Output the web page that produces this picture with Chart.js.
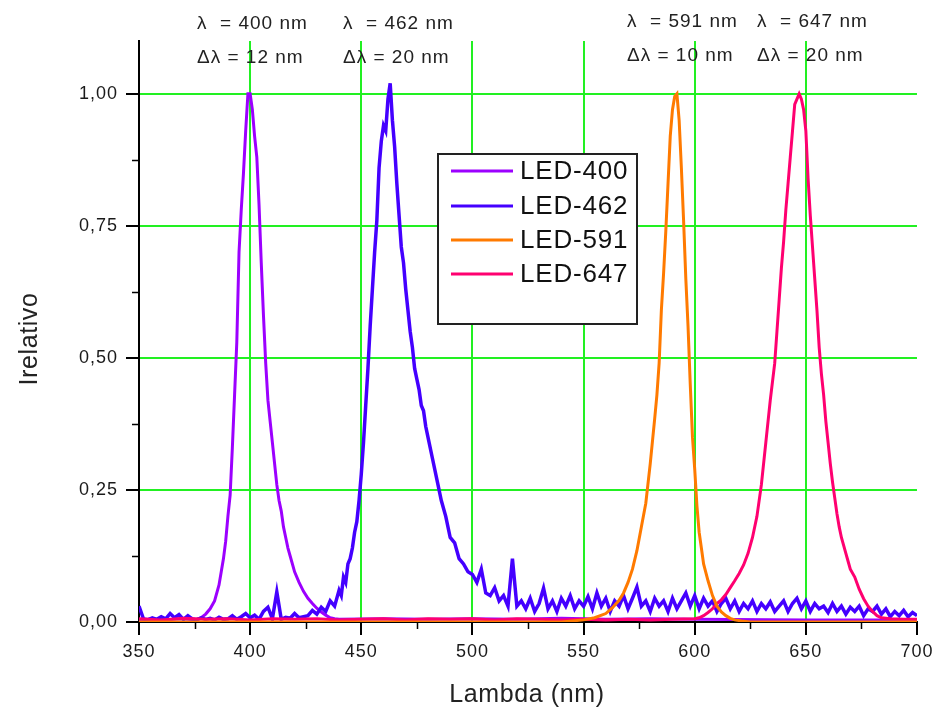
<!DOCTYPE html>
<html>
<head>
<meta charset="utf-8">
<title>LED spectra</title>
<script src="https://cdn.jsdelivr.net/npm/chart.js@4.4.1/dist/chart.umd.min.js"></script>
<style>
  body { margin: 0; background: #fff; }
  canvas { display: block; }
</style>
</head>
<body>
<canvas id="spectraChart" width="938" height="710"></canvas>
<script>
// Spectra: wavelength (nm) and relative intensity
const lambda400 = [
  350, 356, 362, 368, 372, 375, 378,
  380, 382, 384, 386, 387, 388, 389,
  390, 391, 392, 393, 394, 395, 396, 397, 398, 399,
  400, 401, 402, 403, 404, 405, 406, 407, 408, 409,
  410, 411, 412, 413, 414, 415, 416, 417, 418, 419, 420,
  422, 424, 426, 428, 430, 432, 434, 436, 438, 440,
  460, 480, 500, 520, 540, 560, 580, 600, 650, 700
];
const led400 = [
  0.004, 0.006, 0.004, 0.006, 0.005, 0.004, 0.008,
  0.015, 0.025, 0.04, 0.07, 0.095, 0.12, 0.153,
  0.2, 0.24, 0.33, 0.43, 0.53, 0.7, 0.78, 0.85, 0.93, 1.0,
  1.0, 0.97, 0.92, 0.88, 0.79, 0.68, 0.58, 0.49, 0.42, 0.38,
  0.34, 0.3, 0.26, 0.23, 0.21, 0.18, 0.16, 0.14, 0.125, 0.11, 0.095,
  0.075, 0.058, 0.045, 0.035, 0.026, 0.019, 0.013, 0.008, 0.006, 0.005,
  0.006, 0.005, 0.006, 0.005, 0.007, 0.005, 0.006, 0.005, 0.004, 0.004
];

const lambda462 = [
  350, 352, 354, 356, 358, 360, 362, 364, 366, 368,
  370, 372, 374, 376, 378, 380, 382, 384, 386, 388,
  390, 392, 394, 396, 398, 400, 402, 404, 406, 408,
  410, 412, 414, 416, 418, 420, 422, 424, 426, 428,
  430, 432, 434, 436, 438,
  440, 441, 442, 443, 444, 445, 446, 447, 448, 449,
  450, 451, 452, 453, 454, 455, 456, 457, 458, 459,
  460, 461, 462, 463, 464, 465, 466, 467, 468, 469,
  470, 471, 472, 473, 474, 475, 476, 477, 478, 479,
  480,
  482, 484, 486, 488, 490, 492, 494, 496, 498, 500,
  502, 504, 506, 508, 510, 512, 514, 516, 518, 520,
  522, 524, 526, 528, 530, 532, 534, 536, 538, 540,
  542, 544, 546, 548, 550, 552, 554, 556, 558, 560,
  562, 564, 566, 568, 570, 572, 574, 576, 578, 580,
  582, 584, 586, 588, 590, 592, 594, 596, 598, 600,
  602, 604, 606, 608, 610, 612, 614, 616, 618, 620,
  622, 624, 626, 628, 630, 632, 634, 636, 638, 640,
  642, 644, 646, 648, 650, 652, 654, 656, 658, 660,
  662, 664, 666, 668, 670, 672, 674, 676, 678, 680,
  682, 684, 686, 688, 690, 692, 694, 696, 698, 700
];
const led462 = [
  0.03, 0.006, 0.004, 0.008, 0.005, 0.01, 0.006, 0.016, 0.008, 0.014,
  0.005, 0.012, 0.006, 0.004, 0.008, 0.005, 0.007, 0.004, 0.009, 0.005,
  0.006, 0.012, 0.005, 0.01, 0.016, 0.008, 0.013, 0.005, 0.02, 0.028,
  0.006, 0.057, 0.005, 0.009, 0.007, 0.016, 0.008, 0.01, 0.012, 0.022,
  0.015, 0.028, 0.02, 0.04, 0.03,
  0.06, 0.05, 0.085, 0.075, 0.11, 0.12, 0.14, 0.17, 0.19, 0.23,
  0.28, 0.34, 0.41, 0.48, 0.56, 0.63, 0.7, 0.76, 0.86, 0.91,
  0.94, 0.93, 0.99, 1.02, 0.95, 0.9, 0.83, 0.77, 0.71, 0.68,
  0.63, 0.59, 0.55, 0.52, 0.48, 0.46, 0.44, 0.41, 0.4, 0.37,
  0.35,
  0.31, 0.27, 0.23, 0.2, 0.16, 0.15, 0.12, 0.11, 0.095, 0.09,
  0.075, 0.1, 0.055, 0.05, 0.065, 0.04, 0.05, 0.03, 0.12, 0.03,
  0.04, 0.025, 0.045, 0.02, 0.035, 0.064, 0.025, 0.04, 0.02, 0.045,
  0.03, 0.05, 0.025, 0.04, 0.03, 0.048, 0.025, 0.055, 0.03, 0.045,
  0.02, 0.04, 0.03, 0.05, 0.025, 0.045, 0.066, 0.03, 0.04, 0.02,
  0.045, 0.03, 0.04, 0.02, 0.045, 0.025, 0.04, 0.055, 0.03, 0.05,
  0.025, 0.045, 0.03, 0.04, 0.02, 0.035, 0.045, 0.025, 0.04, 0.02,
  0.035, 0.025, 0.04, 0.02, 0.035, 0.025, 0.038, 0.02, 0.03, 0.04,
  0.02, 0.035, 0.045, 0.025, 0.04, 0.02, 0.035, 0.025, 0.03, 0.018,
  0.035, 0.02, 0.03, 0.015, 0.028, 0.02, 0.03, 0.012, 0.025, 0.02,
  0.03, 0.015, 0.025, 0.01, 0.02, 0.012, 0.022, 0.01, 0.018, 0.012
];

const lambda591 = [
  350, 400, 450, 500,
  540, 545, 550, 555, 560, 563, 566, 568, 570, 572,
  574, 576, 578, 580, 582,
  583, 584, 585, 586, 587, 588, 589, 590, 591, 592,
  593, 594, 595, 596, 597, 598, 599, 600, 601, 602, 603, 604,
  606, 608, 610, 612, 614, 616, 618,
  621, 625, 650, 700
];
const led591 = [
  0, 0, 0, 0,
  0, 0.002, 0.004, 0.008, 0.016, 0.027, 0.041, 0.055, 0.075, 0.1,
  0.135, 0.18, 0.225, 0.3, 0.385,
  0.43, 0.49, 0.59, 0.66, 0.74, 0.83, 0.92, 0.97, 0.995, 1.0,
  0.95, 0.86, 0.76, 0.65, 0.56, 0.45, 0.35, 0.29, 0.22, 0.17, 0.14, 0.11,
  0.078, 0.05, 0.03, 0.019, 0.012, 0.007, 0.004,
  0.002, 0, 0, 0
];

const lambda647 = [
  350, 360, 370, 380, 390, 400, 410, 420, 430, 440,
  450, 460, 470, 480, 490, 500, 510, 520, 530, 540,
  550, 560, 570, 580, 590, 600,
  602, 604, 606, 608, 610, 612, 614, 616, 618, 620,
  622, 624, 626, 628, 630, 632, 634, 636,
  637, 638, 639, 640, 641, 642, 643, 644, 645, 646,
  647, 648, 649, 650, 651, 652, 653, 654, 655, 656,
  657, 658, 659, 660, 661, 662, 663, 664, 665, 666,
  667, 668, 669, 670,
  672, 674, 676, 678, 680, 682, 684,
  688, 694, 700
];
const led647 = [
  0.006, 0.004, 0.007, 0.005, 0.006, 0.004, 0.006, 0.005, 0.006, 0.004,
  0.005, 0.006, 0.004, 0.006, 0.005, 0.006, 0.004, 0.006, 0.005, 0.004,
  0.005, 0.004, 0.005, 0.004, 0.005, 0.006,
  0.008, 0.012, 0.018, 0.025, 0.035, 0.042, 0.052, 0.065, 0.078, 0.092,
  0.108, 0.13, 0.16, 0.2, 0.26, 0.34, 0.42, 0.49,
  0.55, 0.61, 0.67, 0.72, 0.78, 0.83, 0.88, 0.93, 0.98, 0.99,
  1.0, 0.99, 0.97, 0.93, 0.84, 0.77, 0.71, 0.65, 0.59, 0.52,
  0.47, 0.43, 0.38, 0.34, 0.3, 0.265, 0.235, 0.205, 0.18, 0.16,
  0.145, 0.13, 0.115, 0.1,
  0.085, 0.062, 0.044, 0.03, 0.02, 0.012, 0.008,
  0.006, 0.005, 0.005
];

const seriesNames = ["LED-400", "LED-462", "LED-591", "LED-647"];
const peakLabels = ["400", "462", "591", "647"];
const widthLabels = ["12", "20", "10", "20"];
const xMajorTicks = [350, 400, 450, 500, 550, 600, 650, 700];
const yMajorTicks = [0, 0.25, 0.5, 0.75, 1.0];

// styles
const colors = ["#9c00ff", "#4400ff", "#ff7a00", "#ff0070"];
const GRID = "#22f022";
const FONT = "'Liberation Sans', Arial, sans-serif";

const withMinors = majors => majors.flatMap((v, i) => i ? [(v + majors[i - 1]) / 2, v] : [v]);
const xTicks = withMinors(xMajorTicks);
const yTicks = withMinors(yMajorTicks);
const xMinor = xTicks.filter(v => !xMajorTicks.includes(v));
const yMinor = yTicks.filter(v => !yMajorTicks.includes(v));

const toPoints = (xs, ys) => xs.map((x, i) => ({ x: x, y: ys[i] }));
const datasets = [
  { label: seriesNames[0], data: toPoints(lambda400, led400), borderColor: colors[0], order: 4 },
  { label: seriesNames[1], data: toPoints(lambda462, led462), borderColor: colors[1], order: 3, borderWidth: 3.5 },
  { label: seriesNames[2], data: toPoints(lambda591, led591), borderColor: colors[2], order: 1 },
  { label: seriesNames[3], data: toPoints(lambda647, led647), borderColor: colors[3], order: 2 }
].map(d => Object.assign({ borderWidth: 3, pointRadius: 0, fill: false, tension: 0 }, d));

const innerGrid = (majors, lo, hi) => c => {
  const v = c.tick ? c.tick.value : null;
  return majors.includes(v) && v !== lo && v !== hi ? GRID : "rgba(0,0,0,0)";
};
const majorTick = majors => c => (c.tick && majors.includes(c.tick.value)) ? "#000" : "rgba(0,0,0,0)";

const spacing = {
  id: "spacing",
  beforeDraw(chart) { chart.ctx.letterSpacing = "1px"; }
};

const decorations = {
  id: "decorations",
  afterDraw(chart) {
    const { ctx, chartArea: area } = chart;
    const x = chart.scales.x, y = chart.scales.y;
    ctx.save();

    // minor ticks
    ctx.strokeStyle = "#000";
    ctx.lineWidth = 1.5;
    ctx.beginPath();
    xMinor.forEach(v => {
      const px = Math.round(x.getPixelForValue(v)) + 0.5;
      ctx.moveTo(px, area.bottom);
      ctx.lineTo(px, area.bottom + 7);
    });
    yMinor.forEach(v => {
      const py = Math.round(y.getPixelForValue(v)) + 0.5;
      ctx.moveTo(area.left - 7, py);
      ctx.lineTo(area.left, py);
    });
    ctx.stroke();

    // peak annotations above the plot
    ctx.fillStyle = "#222";
    ctx.font = "19px " + FONT;
    ctx.letterSpacing = "1px";
    ctx.textAlign = "left";
    ctx.textBaseline = "alphabetic";
    const annX = [197, 343, 627, 757];
    const annY = [29, 29, 27, 27];
    peakLabels.forEach((p, i) => {
      ctx.fillText("\u03bb  = " + p + " nm", annX[i], annY[i]);
      ctx.fillText("\u0394\u03bb = " + widthLabels[i] + " nm", annX[i], annY[i] + 34);
    });

    // axis titles
    ctx.font = "25px " + FONT;
    ctx.letterSpacing = "0.6px";
    ctx.textAlign = "center";
    ctx.fillText("Lambda (nm)", 527, 702);
    ctx.save();
    ctx.translate(30, 339);
    ctx.rotate(-Math.PI / 2);
    ctx.textBaseline = "middle";
    ctx.fillText("Irelativo", 0, 0);
    ctx.restore();

    // legend box
    ctx.fillStyle = "#fff";
    ctx.fillRect(438, 154, 199, 170);
    ctx.strokeStyle = "#222";
    ctx.lineWidth = 2;
    ctx.strokeRect(438, 154, 199, 170);
    ctx.font = "26px " + FONT;
    ctx.letterSpacing = "0.8px";
    ctx.textAlign = "left";
    ctx.textBaseline = "middle";
    const rowY = [171, 206, 240, 274];
    datasets.forEach((d, i) => {
      ctx.strokeStyle = d.borderColor;
      ctx.lineWidth = 3;
      ctx.beginPath();
      ctx.moveTo(451, rowY[i]);
      ctx.lineTo(513, rowY[i]);
      ctx.stroke();
      ctx.fillStyle = "#111";
      ctx.fillText(d.label, 520, rowY[i] + 1);
    });

    ctx.restore();
  }
};

new Chart(document.getElementById("spectraChart"), {
  type: "line",
  data: { datasets: datasets },
  options: {
    responsive: false,
    animation: false,
    layout: { padding: { top: 41, right: 20, left: 0, bottom: 0 } },
    plugins: {
      legend: { display: false },
      tooltip: { enabled: false }
    },
    scales: {
      x: {
        type: "linear",
        min: 350,
        max: 700,
        afterBuildTicks: s => { s.ticks = xTicks.map(v => ({ value: v })); },
        afterFit: s => { s.height = 88; },
        grid: {
          color: innerGrid(xMajorTicks, 350, 700),
          lineWidth: 2,
          tickColor: majorTick(xMajorTicks),
          tickLength: 13,
          tickWidth: 2
        },
        border: { color: "#000", width: 2 },
        ticks: {
          callback: v => xMajorTicks.includes(v) ? String(v) : "",
          autoSkip: false,
          maxRotation: 0,
          padding: 6,
          color: "#1a1a1a",
          font: { family: FONT, size: 18 }
        }
      },
      y: {
        type: "linear",
        min: 0,
        max: 1.1,
        afterBuildTicks: s => { s.ticks = yTicks.map(v => ({ value: v })); },
        afterFit: s => { s.width = 139; },
        grid: {
          color: innerGrid(yMajorTicks, 0, 1.1),
          lineWidth: 2,
          tickColor: majorTick(yMajorTicks),
          tickLength: 13,
          tickWidth: 2
        },
        border: { color: "#000", width: 2 },
        ticks: {
          callback: v => yMajorTicks.includes(v) ? v.toFixed(2).replace(".", ",") : "",
          autoSkip: false,
          padding: 8,
          color: "#1a1a1a",
          font: { family: FONT, size: 18 }
        }
      }
    }
  },
  plugins: [spacing, decorations]
});
</script>
</body>
</html>
